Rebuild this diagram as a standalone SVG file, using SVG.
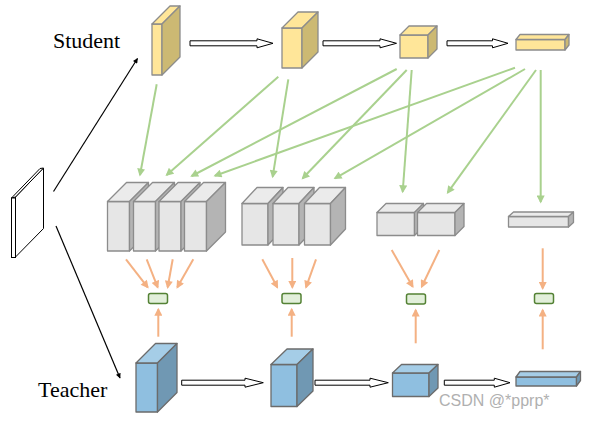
<svg xmlns="http://www.w3.org/2000/svg" width="597" height="424" viewBox="0 0 597 424">
<style>
.lbl{font-family:"Liberation Serif","Times New Roman",serif;font-size:22px;fill:#000}
.wm{font-family:"Liberation Sans",Arial,sans-serif;font-size:16px;fill:#b0b0b0}
.yf{fill:#ffe699;stroke:#8c8c8c;stroke-width:1.3;stroke-linejoin:round}
.yt{fill:#ffe699;stroke:#8c8c8c;stroke-width:1.3;stroke-linejoin:round}
.ys{fill:#ccb973;stroke:#8c8c8c;stroke-width:1.3;stroke-linejoin:round}
.gf{fill:#e6e6e6;stroke:#8c8c8c;stroke-width:1.3;stroke-linejoin:round}
.gt{fill:#ebebeb;stroke:#8c8c8c;stroke-width:1.3;stroke-linejoin:round}
.gs{fill:#b4b4b4;stroke:#8c8c8c;stroke-width:1.3;stroke-linejoin:round}
.bf{fill:#8fbfe0;stroke:#6b6b6b;stroke-width:1.3;stroke-linejoin:round}
.bt{fill:#a5cde7;stroke:#6b6b6b;stroke-width:1.3;stroke-linejoin:round}
.bs{fill:#7098b3;stroke:#6b6b6b;stroke-width:1.3;stroke-linejoin:round}
.hol{fill:#fff;stroke:#000;stroke-width:1}
.gl{stroke:#a9d18e;stroke-width:2;fill:none;marker-end:url(#mg)}
.ol{stroke:#f4b183;stroke-width:2;fill:none;marker-end:url(#mo)}
.bl{stroke:#000;stroke-width:1.2;fill:none;marker-end:url(#mb)}
.sm{fill:#e2efda;stroke:#548235;stroke-width:1.5}
</style>
<defs>
<marker id="mg" viewBox="0 0 10 10" refX="8" refY="5" markerWidth="9" markerHeight="8" markerUnits="userSpaceOnUse" orient="auto"><path d="M0,0 L10,5 L0,10 z" fill="#a9d18e"/></marker>
<marker id="mo" viewBox="0 0 10 10" refX="8" refY="5" markerWidth="9" markerHeight="8" markerUnits="userSpaceOnUse" orient="auto"><path d="M0,0 L10,5 L0,10 z" fill="#f4b183"/></marker>
<marker id="mb" viewBox="0 0 10 10" refX="9" refY="5" markerWidth="6" markerHeight="5" markerUnits="userSpaceOnUse" orient="auto"><path d="M0,0 L10,5 L0,10 z" fill="#000"/></marker>
</defs>
<rect width="597" height="424" fill="#fff"/>

<g id="input">
<polygon points="15.5,197 43.5,168 43.5,228.5 15.5,257" fill="#fff" stroke="#000" stroke-width="1"/>
<polygon points="11.5,198 40,168.5 43.5,168 15.5,197" fill="#fff" stroke="#000" stroke-width="1"/>
<rect x="11.5" y="198" width="4" height="59.5" fill="#fff" stroke="#000" stroke-width="1"/>
</g>

<text class="lbl" x="53" y="48">Student</text>
<text class="lbl" x="38" y="396.5">Teacher</text>

<g id="student1"><rect class="yf" x="152" y="24" width="10" height="51"/><polygon class="yt" points="152,24 170,6 180,6 162,24"/><polygon class="ys" points="162,24 180,6 180,57 162,75"/></g>
<g id="student2"><rect class="yf" x="282" y="28" width="20" height="40"/><polygon class="yt" points="282,28 298,12 318,12 302,28"/><polygon class="ys" points="302,28 318,12 318,52 302,68"/></g>
<g id="student3"><rect class="yf" x="400" y="35" width="28" height="23"/><polygon class="yt" points="400,35 409,26 437,26 428,35"/><polygon class="ys" points="428,35 437,26 437,49 428,58"/></g>
<g id="student4"><rect class="yf" x="516" y="39.5" width="49" height="10.5"/><polygon class="yt" points="516,39.5 520,34.5 569,34.5 565,39.5"/><polygon class="ys" points="565,39.5 569,34.5 569,45 565,50"/></g>

<g id="feat1">
<rect class="gf" x="107.5" y="201.5" width="22" height="49.5"/><polygon class="gt" points="107.5,201.5 126.5,182.5 148.5,182.5 129.5,201.5"/><polygon class="gs" points="129.5,201.5 148.5,182.5 148.5,232 129.5,251"/>
<rect class="gf" x="133.5" y="201.5" width="22" height="49.5"/><polygon class="gt" points="133.5,201.5 152.5,182.5 174.5,182.5 155.5,201.5"/><polygon class="gs" points="155.5,201.5 174.5,182.5 174.5,232 155.5,251"/>
<rect class="gf" x="159" y="201.5" width="22" height="49.5"/><polygon class="gt" points="159,201.5 178,182.5 200,182.5 181,201.5"/><polygon class="gs" points="181,201.5 200,182.5 200,232 181,251"/>
<rect class="gf" x="184.5" y="201.5" width="22" height="49.5"/><polygon class="gt" points="184.5,201.5 203.5,182.5 225.5,182.5 206.5,201.5"/><polygon class="gs" points="206.5,201.5 225.5,182.5 225.5,232 206.5,251"/>
</g>
<g id="feat2">
<rect class="gf" x="242" y="203.5" width="26" height="41.5"/><polygon class="gt" points="242,203.5 257,187.5 283,187.5 268,203.5"/><polygon class="gs" points="268,203.5 283,187.5 283,229 268,245"/>
<rect class="gf" x="273" y="203.5" width="26" height="41.5"/><polygon class="gt" points="273,203.5 288,187.5 314,187.5 299,203.5"/><polygon class="gs" points="299,203.5 314,187.5 314,229 299,245"/>
<rect class="gf" x="304.5" y="203.5" width="26" height="41.5"/><polygon class="gt" points="304.5,203.5 319.5,187.5 345.5,187.5 330.5,203.5"/><polygon class="gs" points="330.5,203.5 345.5,187.5 345.5,229 330.5,245"/>
</g>
<g id="feat3">
<rect class="gf" x="377" y="212.5" width="37.5" height="23"/><polygon class="gt" points="377,212.5 386,203.5 423.5,203.5 414.5,212.5"/><polygon class="gs" points="414.5,212.5 423.5,203.5 423.5,226.5 414.5,235.5"/>
<rect class="gf" x="417.5" y="212.5" width="37.5" height="23"/><polygon class="gt" points="417.5,212.5 426.5,203.5 464,203.5 455,212.5"/><polygon class="gs" points="455,212.5 464,203.5 464,226.5 455,235.5"/>
</g>
<g id="feat4">
<rect class="gf" x="508.5" y="216.5" width="60" height="10.5"/><polygon class="gt" points="508.5,216.5 513.5,212 573.5,212 568.5,216.5"/><polygon class="gs" points="568.5,216.5 573.5,212 573.5,222.5 568.5,227"/>
</g>

<g id="teacher1"><rect class="bf" x="136" y="363" width="21.5" height="49"/><polygon class="bt" points="136,363 155.5,343.5 177,343.5 157.5,363"/><polygon class="bs" points="157.5,363 177,343.5 177,392.5 157.5,412"/></g>
<g id="teacher2"><rect class="bf" x="271" y="364.5" width="26" height="42"/><polygon class="bt" points="271,364.5 287,349 313,349 297,364.5"/><polygon class="bs" points="297,364.5 313,349 313,391 297,406.5"/></g>
<g id="teacher3"><rect class="bf" x="392.5" y="373" width="36.5" height="23.5"/><polygon class="bt" points="392.5,373 401.5,364.5 438,364.5 429,373"/><polygon class="bs" points="429,373 438,364.5 438,388 429,396.5"/></g>
<g id="teacher4"><rect class="bf" x="516" y="377" width="60.5" height="9"/><polygon class="bt" points="516,377 520,371.5 580.5,371.5 576.5,377"/><polygon class="bs" points="576.5,377 580.5,371.5 580.5,380.5 576.5,386"/></g>

<g id="loss1"><rect class="sm" x="148.5" y="293.5" width="19" height="10" rx="2"/></g>
<g id="loss2"><rect class="sm" x="282" y="293.5" width="19" height="10" rx="2"/></g>
<g id="loss3"><rect class="sm" x="406.5" y="294" width="19" height="10" rx="2"/></g>
<g id="loss4"><rect class="sm" x="534.5" y="293.5" width="19" height="10" rx="2"/></g>

<g id="connectors">
<polygon class="hol" points="190,40.8 257,40.8 257,38.8 273,43.3 257,47.8 257,45.8 190,45.8"/>
<polygon class="hol" points="323,40.8 380,40.8 380,38.8 396.5,43.3 380,47.8 380,45.8 323,45.8"/>
<polygon class="hol" points="447,40.8 492.5,40.8 492.5,38.8 508,43.3 492.5,47.8 492.5,45.8 447,45.8"/>
<polygon class="hol" points="181.7,380.2 245,380.2 245,378.2 263.3,382.7 245,387.2 245,385.2 181.7,385.2"/>
<polygon class="hol" points="315,380.2 370,380.2 370,378.2 388.3,382.7 370,387.2 370,385.2 315,385.2"/>
<polygon class="hol" points="444.3,380.2 494.3,380.2 494.3,378.2 510,382.7 494.3,387.2 494.3,385.2 444.3,385.2"/>

<line class="bl" x1="53.5" y1="191.5" x2="137.5" y2="58.5"/>
<line class="bl" x1="56" y1="226" x2="120" y2="378"/>

<line class="gl" x1="156.7" y1="84.3" x2="140" y2="175"/>
<line class="gl" x1="278.3" y1="76.7" x2="166.7" y2="175"/>
<line class="gl" x1="288.3" y1="79.3" x2="272.7" y2="176.7"/>
<line class="gl" x1="396.7" y1="69" x2="191.7" y2="176"/>
<line class="gl" x1="406.7" y1="70" x2="302.7" y2="178.3"/>
<line class="gl" x1="411.7" y1="70" x2="402.7" y2="191.7"/>
<line class="gl" x1="515" y1="67.7" x2="215" y2="175.7"/>
<line class="gl" x1="525" y1="69" x2="335" y2="178.3"/>
<line class="gl" x1="536" y1="70" x2="447.7" y2="192.7"/>
<line class="gl" x1="540.7" y1="70" x2="540.7" y2="202"/>

<line class="ol" x1="126" y1="259.3" x2="147.7" y2="287.3"/>
<line class="ol" x1="146.7" y1="259.3" x2="157.7" y2="287.3"/>
<line class="ol" x1="172.7" y1="259.3" x2="167.7" y2="287.3"/>
<line class="ol" x1="193.3" y1="259.3" x2="177.3" y2="287.3"/>
<line class="ol" x1="158.3" y1="336.7" x2="158.3" y2="309.3"/>
<line class="ol" x1="262.3" y1="259.3" x2="277.3" y2="287.3"/>
<line class="ol" x1="292.3" y1="258" x2="292.3" y2="287.3"/>
<line class="ol" x1="316" y1="259.3" x2="306" y2="287.3"/>
<line class="ol" x1="291.7" y1="336.7" x2="291.7" y2="309.3"/>
<line class="ol" x1="391.7" y1="250" x2="412.7" y2="286.7"/>
<line class="ol" x1="439.3" y1="250" x2="421.7" y2="286.7"/>
<line class="ol" x1="415.7" y1="343.3" x2="415.7" y2="310"/>
<line class="ol" x1="542.7" y1="248.3" x2="542.7" y2="288.3"/>
<line class="ol" x1="542.7" y1="349.3" x2="542.7" y2="310"/>
</g>

<text class="wm" x="439" y="405.5">CSDN @*pprp*</text>
</svg>
